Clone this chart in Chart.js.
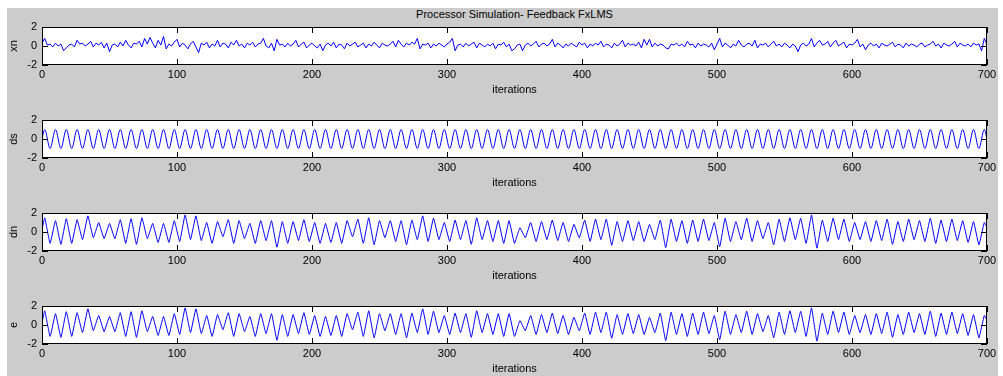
<!DOCTYPE html>
<html><head><meta charset="utf-8">
<script src="https://cdn.jsdelivr.net/npm/chart.js@4.4.1/dist/chart.umd.min.js"></script>
<style>
html,body{margin:0;padding:0;background:#fff;overflow:hidden;width:1003px;height:376px;}
#fig{position:absolute;left:7px;top:8px;width:991px;height:368px;background:#cccccc;}
.cv{position:absolute;left:0;}
#title{position:absolute;top:7px;left:314.5px;width:400px;text-align:center;font:11px 'Liberation Sans',Arial,sans-serif;color:#000;line-height:14px;white-space:nowrap;}
</style></head>
<body>
<div id="fig"></div>
<div id="title">Processor Simulation- Feedback FxLMS</div>
<canvas id="c0" class="cv" width="1003" height="93" style="top:8px"></canvas>
<canvas id="c1" class="cv" width="1003" height="93" style="top:101px"></canvas>
<canvas id="c2" class="cv" width="1003" height="93" style="top:194px"></canvas>
<canvas id="c3" class="cv" width="1003" height="93" style="top:287px"></canvas>
<script>
// ---- data ----
const seriesNames = ['xn', 'ds', 'dn', 'e'];
const xTickLabels = [0, 100, 200, 300, 400, 500, 600, 700];
const yTickLabels = [-2, 0, 2];

// xn sampled every 2 iterations
const xnIters = [
0,2,4,6,8,10,12,14,16,18,20,22,24,26,28,30,32,34,36,38,40,42,44,46,48,
50,52,54,56,58,60,62,64,66,68,70,72,74,76,78,80,82,84,86,88,90,92,94,96,98,
100,102,104,106,108,110,112,114,116,118,120,122,124,126,128,130,132,134,136,138,140,142,144,146,148,
150,152,154,156,158,160,162,164,166,168,170,172,174,176,178,180,182,184,186,188,190,192,194,196,198,
200,202,204,206,208,210,212,214,216,218,220,222,224,226,228,230,232,234,236,238,240,242,244,246,248,
250,252,254,256,258,260,262,264,266,268,270,272,274,276,278,280,282,284,286,288,290,292,294,296,298,
300,302,304,306,308,310,312,314,316,318,320,322,324,326,328,330,332,334,336,338,340,342,344,346,348,
350,352,354,356,358,360,362,364,366,368,370,372,374,376,378,380,382,384,386,388,390,392,394,396,398,
400,402,404,406,408,410,412,414,416,418,420,422,424,426,428,430,432,434,436,438,440,442,444,446,448,
450,452,454,456,458,460,462,464,466,468,470,472,474,476,478,480,482,484,486,488,490,492,494,496,498,
500,502,504,506,508,510,512,514,516,518,520,522,524,526,528,530,532,534,536,538,540,542,544,546,548,
550,552,554,556,558,560,562,564,566,568,570,572,574,576,578,580,582,584,586,588,590,592,594,596,598,
600,602,604,606,608,610,612,614,616,618,620,622,624,626,628,630,632,634,636,638,640,642,644,646,648,
650,652,654,656,658,660,662,664,666,668,670,672,674,676,678,680,682,684,686,688,690,692,694,696,698,
700];
const xnValues = [
0.3,0.8,0.1,0.2,-0.1,0.3,0.0,0.2,-0.5,-0.2,0.1,0.2,-0.1,0.6,0.2,0.3,0.0,0.2,0.5,-0.1,0.3,0.1,0.4,-0.2,0.3,
-0.6,0.1,0.2,-0.1,0.4,0.0,0.6,0.1,-0.2,0.3,0.2,0.5,-0.1,0.8,0.2,0.9,0.3,-0.2,0.6,0.1,1.0,-0.3,0.2,0.0,0.4,
0.7,-0.1,0.3,0.1,-0.3,0.2,0.5,-0.1,-0.7,0.3,0.1,0.4,-0.2,0.2,0.0,0.6,-0.1,0.3,0.2,-0.2,0.4,0.1,0.6,0.0,0.2,
-0.2,0.3,0.1,0.4,-0.1,0.2,0.3,0.8,0.0,-0.2,0.3,-0.5,0.7,0.1,0.2,-0.1,0.3,0.0,0.2,0.6,-0.1,0.2,0.4,-0.2,0.1,
0.3,0.0,-0.2,0.2,-0.5,0.1,0.3,0.0,0.4,-0.2,0.2,0.1,-0.3,0.3,0.0,0.2,0.4,-0.1,0.1,0.3,-0.2,0.2,0.0,0.4,0.1,
-0.2,0.3,0.1,0.0,0.2,0.5,-0.1,0.6,0.2,-0.1,0.3,0.1,0.4,0.2,0.8,-0.3,0.2,0.1,0.3,-0.2,0.2,0.0,0.3,0.1,-0.1,
0.2,0.4,0.8,-0.5,0.1,0.2,-0.1,0.3,0.0,0.2,0.4,-0.2,0.3,0.1,-0.1,0.2,0.0,0.3,-0.3,0.2,0.1,0.4,-0.1,0.2,-0.5,
-0.3,0.1,0.2,-0.5,0.1,0.3,0.0,0.2,0.5,-0.1,0.2,0.3,0.0,0.2,0.7,-0.1,0.3,0.1,-0.2,0.2,0.0,0.3,0.1,-0.1,0.4,
0.1,0.3,-0.2,0.2,0.0,0.3,0.1,0.5,-0.1,0.2,0.1,-0.2,0.3,0.0,0.2,0.6,-0.1,0.3,0.1,0.2,0.0,0.4,-0.2,0.7,0.1,
0.7,-0.1,0.3,0.0,0.2,0.1,-0.2,-0.3,0.2,0.1,0.3,0.0,0.2,-0.1,0.5,0.1,0.2,-0.2,0.3,0.0,0.2,0.1,-0.1,0.3,-0.4,
0.2,0.8,-0.1,0.3,0.1,-0.2,0.2,0.0,0.6,0.1,-0.1,0.2,0.3,0.0,0.6,-0.2,0.2,0.1,0.3,-0.1,0.2,0.5,0.0,0.2,-0.1,
0.3,0.1,-0.2,0.2,0.0,-0.6,0.1,0.3,0.0,0.2,0.8,-0.1,0.3,0.6,0.1,0.2,0.5,-0.1,0.3,0.6,0.0,0.2,0.4,-0.2,0.2,
0.1,0.3,0.7,-0.1,0.2,-0.4,0.1,0.3,0.0,0.2,-0.2,0.3,0.1,0.0,0.2,0.4,-0.1,0.2,0.1,-0.2,0.3,0.0,0.2,0.1,-0.1,
0.2,0.3,-0.1,0.1,0.2,0.5,0.0,0.2,-0.2,0.3,0.1,0.0,0.2,0.5,-0.1,0.3,0.1,0.0,0.2,-0.1,0.3,0.1,0.2,-0.5,0.8,
0.1];

// ds, dn, e: values at the peaks / troughs of each cycle
const waveIters = [
0,2,6,10,14,18,22,26,30,34,38,42,46,50,54,58,62,66,70,74,78,82,86,90,94,98,
102,106,110,114,118,122,126,130,134,138,142,146,150,154,158,162,166,170,174,178,182,186,190,194,198,
202,206,210,214,218,222,226,230,234,238,242,246,250,254,258,262,266,270,274,278,282,286,290,294,298,
302,306,310,314,318,322,326,330,334,338,342,346,350,354,358,362,366,370,374,378,382,386,390,394,398,
402,406,410,414,418,422,426,430,434,438,442,446,450,454,458,462,466,470,474,478,482,486,490,494,498,
502,506,510,514,518,522,526,530,534,538,542,546,550,554,558,562,566,570,574,578,582,586,590,594,598,
602,606,610,614,618,622,626,630,634,638,642,646,650,654,658,662,666,670,674,678,682,686,690,694,698,
700];
const dsValues = [
0,1,-1,1,-1,1,-1,1,-1,1,-1,1,-1,1,-1,1,-1,1,-1,1,-1,1,-1,1,-1,1,
-1,1,-1,1,-1,1,-1,1,-1,1,-1,1,-1,1,-1,1,-1,1,-1,1,-1,1,-1,1,-1,
1,-1,1,-1,1,-1,1,-1,1,-1,1,-1,1,-1,1,-1,1,-1,1,-1,1,-1,1,-1,1,
-1,1,-1,1,-1,1,-1,1,-1,1,-1,1,-1,1,-1,1,-1,1,-1,1,-1,1,-1,1,-1,
1,-1,1,-1,1,-1,1,-1,1,-1,1,-1,1,-1,1,-1,1,-1,1,-1,1,-1,1,-1,1,
-1,1,-1,1,-1,1,-1,1,-1,1,-1,1,-1,1,-1,1,-1,1,-1,1,-1,1,-1,1,-1,
1,-1,1,-1,1,-1,1,-1,1,-1,1,-1,1,-1,1,-1,1,-1,1,-1,1,-1,1,-1,1,
0];
const dnValues = [
0.2,1.5,-1.2,1.2,-1.3,1.4,-1.2,1.3,-0.8,1.7,-0.6,1.0,-0.7,0.9,-0.7,1.3,-1.2,1.4,-1.3,1.5,-0.7,0.9,-1.1,0.9,-1.1,1.2,
-1.0,1.8,-0.8,1.7,-0.9,1.0,-1.2,1.1,-0.5,1.3,-1.2,1.2,-0.7,0.9,-1.2,1.2,-0.9,1.2,-1.6,1.1,-1.2,1.1,-0.9,1.3,-1.0,
1.0,-1.2,0.9,-1.1,1.0,-1.2,1.2,-0.5,1.35,-1.2,1.5,-1.35,1.2,-0.6,1.2,-1.0,1.2,-1.35,1.25,-0.8,1.7,-1.0,1.45,-0.8,1.0,
-1.0,1.25,-0.8,1.2,-1.3,1.5,-0.8,1.2,-1.0,1.2,-1.2,1.2,-1.2,0.45,-0.6,1.0,-1.0,1.1,-0.8,1.25,-0.9,1.0,-1.0,0.8,-0.6,
1.25,-1.0,1.35,-0.8,1.35,-1.4,1.1,-1.0,1.2,-0.9,1.1,-1.0,0.8,-0.8,1.25,-1.65,1.35,-1.0,1.2,-1.2,1.25,-1.0,1.35,-0.9,1.0,
-1.55,1.45,-1.0,1.1,-0.8,1.45,-1.0,1.2,-0.7,1.0,-1.35,1.35,-1.0,1.5,-0.8,1.45,-1.2,1.8,-1.7,1.25,-1.0,1.45,-0.8,1.35,-1.0,
1.0,-0.8,1.1,-1.0,1.2,-0.9,1.35,-1.3,1.1,-1.0,1.35,-0.8,1.2,-1.0,1.45,-1.2,1.25,-1.0,1.35,-0.9,1.2,-1.1,1.1,-1.35,1.0,
0.5];
const eValues = [
0.2,1.5,-1.2,1.2,-1.3,1.4,-1.2,1.3,-0.8,1.7,-0.6,1.0,-0.7,0.9,-0.7,1.3,-1.2,1.4,-1.3,1.5,-0.7,0.9,-1.1,0.9,-1.1,1.2,
-1.0,1.8,-0.8,1.7,-0.9,1.0,-1.2,1.1,-0.5,1.3,-1.2,1.2,-0.7,0.9,-1.2,1.2,-0.9,1.2,-1.6,1.1,-1.2,1.1,-0.9,1.3,-1.0,
1.0,-1.2,0.9,-1.1,1.0,-1.2,1.2,-0.5,1.35,-1.2,1.5,-1.35,1.2,-0.6,1.2,-1.0,1.2,-1.35,1.25,-0.8,1.7,-1.0,1.45,-0.8,1.0,
-1.0,1.25,-0.8,1.2,-1.3,1.5,-0.8,1.2,-1.0,1.2,-1.2,1.2,-1.2,0.45,-0.6,1.0,-1.0,1.1,-0.8,1.25,-0.9,1.0,-1.0,0.8,-0.6,
1.25,-1.0,1.35,-0.8,1.35,-1.4,1.1,-1.0,1.2,-0.9,1.1,-1.0,0.8,-0.8,1.25,-1.65,1.35,-1.0,1.2,-1.2,1.25,-1.0,1.35,-0.9,1.0,
-1.55,1.45,-1.0,1.1,-0.8,1.45,-1.0,1.2,-0.7,1.0,-1.35,1.35,-1.0,1.5,-0.8,1.45,-1.2,1.8,-1.7,1.25,-1.0,1.45,-0.8,1.35,-1.0,
1.0,-0.8,1.1,-1.0,1.2,-0.9,1.35,-1.3,1.1,-1.0,1.35,-0.8,1.2,-1.0,1.45,-1.2,1.25,-1.0,1.35,-0.9,1.2,-1.1,1.1,-1.35,1.0,
0.5];

// ---- drawing ----
Chart.defaults.font.family = "'Liberation Sans', Arial, sans-serif";
Chart.defaults.font.size = 11;
Chart.defaults.color = '#000';

const framePlugin = {
  id: 'matlabFrame',
  beforeDatasetsDraw(chart) {
    const {ctx, chartArea: a} = chart;
    ctx.save();
    ctx.fillStyle = '#ffffff';
    ctx.fillRect(a.left, a.top, a.right - a.left, a.bottom - a.top);
    ctx.restore();
  },
  afterDatasetsDraw(chart) {
    const {ctx, chartArea: a, scales: {x, y}} = chart;
    ctx.save();
    ctx.strokeStyle = '#000';
    ctx.lineWidth = 1;
    ctx.strokeRect(a.left + 0.5, a.top + 0.5, a.right - a.left - 1, a.bottom - a.top - 1);
    ctx.beginPath();
    const L = 6;
    x.ticks.forEach(t => {
      const px = Math.round(x.getPixelForValue(t.value)) + 0.5;
      ctx.moveTo(px, a.top); ctx.lineTo(px, a.top + L);
      ctx.moveTo(px, a.bottom); ctx.lineTo(px, a.bottom - L);
    });
    y.ticks.forEach(t => {
      const py = Math.round(y.getPixelForValue(t.value)) + 0.5;
      ctx.moveTo(a.left, py); ctx.lineTo(a.left + L, py);
      ctx.moveTo(a.right, py); ctx.lineTo(a.right - L, py);
    });
    ctx.stroke();
    ctx.restore();
  }
};

function makeChart(id, name, iters, values, smooth) {
  const pts = iters.map((it, i) => ({x: it, y: values[i]}));
  const ds = {
    data: pts, borderColor: '#0000ff', borderWidth: 1, pointRadius: 0, fill: false
  };
  if (smooth === 'mono') { ds.cubicInterpolationMode = 'monotone'; }
  else { ds.tension = smooth; }
  return new Chart(document.getElementById(id), {
    type: 'line',
    data: {datasets: [ds]},
    options: {
      responsive: false, animation: false, devicePixelRatio: 1,
      layout: {padding: {left: 7, right: 16, top: 19, bottom: 0}},
      plugins: {legend: {display: false}, tooltip: {enabled: false}, title: {display: false}},
      scales: {
        x: {
          type: 'linear', min: xTickLabels[0], max: xTickLabels[xTickLabels.length - 1],
          afterBuildTicks(s) { s.ticks = xTickLabels.map(v => ({value: v})); },
          ticks: {padding: 3, maxRotation: 0, autoSkip: false, color: '#000'},
          grid: {display: false, drawTicks: false},
          border: {display: false},
          title: {display: true, text: 'iterations', color: '#000', padding: {top: 0, bottom: 4}},
          afterFit(s) { s.height = 36; s.paddingLeft = 0; s.paddingRight = 0; }
        },
        y: {
          type: 'linear', min: yTickLabels[0], max: yTickLabels[yTickLabels.length - 1],
          afterBuildTicks(s) { s.ticks = yTickLabels.map(v => ({value: v})); },
          ticks: {padding: 5, color: '#000'},
          grid: {display: false, drawTicks: false},
          border: {display: false},
          title: {display: true, text: name, color: '#000', padding: {top: 0, bottom: 0}},
          afterFit(s) { s.width = 35; s.paddingTop = 0; s.paddingBottom = 0; }
        }
      }
    },
    plugins: [framePlugin]
  });
}

makeChart('c0', seriesNames[0], xnIters, xnValues, 0);
makeChart('c1', seriesNames[1], waveIters, dsValues, 'mono');
makeChart('c2', seriesNames[2], waveIters, dnValues, 0.1);
makeChart('c3', seriesNames[3], waveIters, eValues, 0.1);
</script>
</body></html>
